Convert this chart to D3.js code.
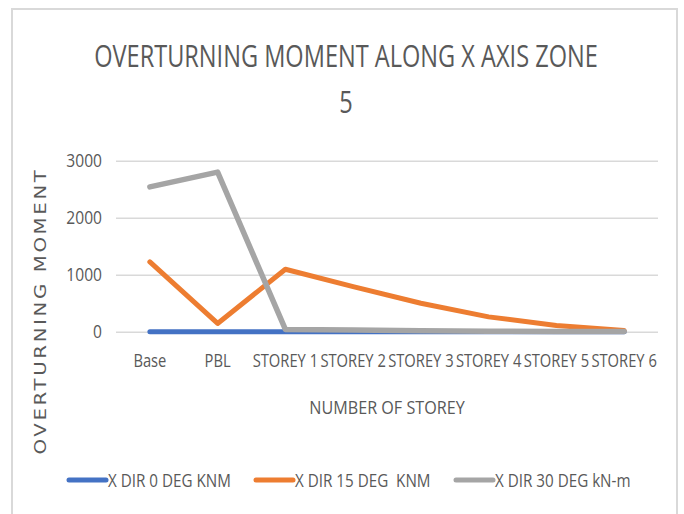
<!DOCTYPE html>
<html>
<head>
<meta charset="utf-8">
<script src="https://cdn.jsdelivr.net/npm/d3@7"></script>
<style>
  body { margin: 0; background: #fff; }
  text { font-family: "Open Sans", sans-serif; fill: #595959; }
</style>
</head>
<body>
<svg id="chart" width="684" height="514"></svg>
<script>
const categories = ["Base", "PBL", "STOREY 1", "STOREY 2", "STOREY 3", "STOREY 4", "STOREY 5", "STOREY 6"];
const dir0 = [0, 0, 0, 0, 0, 0, 0, 0];
const dir15 = [1225, 145, 1095, 790, 500, 260, 110, 20];
const dir30 = [2540, 2800, 40, 30, 15, 10, 5, 2];
const yTicks = [0, 1000, 2000, 3000];
const seriesNames = ["X DIR 0 DEG KNM", "X DIR 15 DEG  KNM", "X DIR 30 DEG kN-m"];
const colors = ["#4472C4", "#ED7D31", "#A5A5A5"];

const svg = d3.select("#chart");
const margin = { top: 160.7, left: 116 };
const width = 658 - margin.left;
const height = 331.7 - margin.top;

// squeeze text horizontally to mimic the narrow office font
const narrow = (sel, f) => sel.each(function () {
  const w = this.getComputedTextLength();
  d3.select(this).attr("textLength", w * f).attr("lengthAdjust", "spacingAndGlyphs");
});

// chart frame
svg.append("rect")
  .attr("x", 12).attr("y", 9)
  .attr("width", 665).attr("height", 520)
  .attr("fill", "#fff")
  .attr("stroke", "#d9d9d9")
  .attr("stroke-width", 2);

// Title
svg.append("text")
  .attr("x", 346).attr("y", 67)
  .attr("text-anchor", "middle")
  .style("font-size", "31px")
  .text("OVERTURNING MOMENT ALONG X AXIS ZONE")
  .call(narrow, 0.76);
svg.append("text")
  .attr("x", 346).attr("y", 113)
  .attr("text-anchor", "middle")
  .style("font-size", "31px")
  .text("5")
  .call(narrow, 0.76);

const x = d3.scaleBand().domain(categories).range([0, width]);
const y = d3.scaleLinear().domain([0, 3000]).range([height, 0]);

const g = svg.append("g").attr("transform", `translate(${margin.left},${margin.top})`);

// Grid
g.append("g")
  .call(d3.axisLeft(y).tickValues(yTicks).tickSize(-width).tickFormat(""))
  .call(s => s.select(".domain").remove())
  .call(s => s.selectAll("line").attr("stroke", "#d9d9d9").attr("stroke-width", 1.5));

// Y axis labels
g.append("g")
  .call(d3.axisLeft(y).tickValues(yTicks).tickSize(0).tickPadding(14).tickFormat(d3.format("d")))
  .call(s => s.select(".domain").remove())
  .call(s => s.selectAll("text").style("font-size", "19px").attr("fill", "#595959").call(narrow, 0.82));

// X axis labels
g.append("g")
  .attr("transform", `translate(0,${height})`)
  .call(d3.axisBottom(x).tickSize(0).tickPadding(22))
  .call(s => s.select(".domain").remove())
  .call(s => s.selectAll("text").style("font-size", "19px").attr("fill", "#595959").call(narrow, 0.775));

// Lines
const line = d3.line()
  .x((d, i) => x(categories[i]) + x.bandwidth() / 2)
  .y(d => y(d));

[dir0, dir15, dir30].forEach((d, idx) => {
  g.append("path")
    .datum(d)
    .attr("fill", "none")
    .attr("stroke", colors[idx])
    .attr("stroke-width", idx === 2 ? 5.5 : 5)
    .attr("stroke-linejoin", "round")
    .attr("stroke-linecap", "round")
    .attr("d", line);
});

// Axis titles
svg.append("text")
  .attr("x", 387).attr("y", 414)
  .attr("text-anchor", "middle")
  .style("font-size", "19px")
  .text("NUMBER OF STOREY")
  .call(narrow, 0.85);

svg.append("text")
  .attr("transform", "translate(46,311) rotate(-90)")
  .attr("text-anchor", "middle")
  .style("font-family", "'DejaVu Sans', sans-serif")
  .style("font-size", "15px")
  .style("letter-spacing", "2px")
  .attr("textLength", 287)
  .attr("lengthAdjust", "spacingAndGlyphs")
  .text("OVERTURNING MOMENT");

// Legend
const legendX = [69, 256, 456];
seriesNames.forEach((name, i) => {
  const lg = svg.append("g").attr("transform", `translate(${legendX[i]},480)`);
  lg.append("line")
    .attr("x1", 0).attr("x2", 37)
    .attr("y1", 0).attr("y2", 0)
    .attr("stroke", colors[i])
    .attr("stroke-width", 5)
    .attr("stroke-linecap", "round");
  lg.append("text")
    .attr("x", 39).attr("y", 7)
    .style("font-size", "19px")
    .style("white-space", "pre")
    .text(name)
    .call(narrow, 0.8);
});
</script>
</body>
</html>
